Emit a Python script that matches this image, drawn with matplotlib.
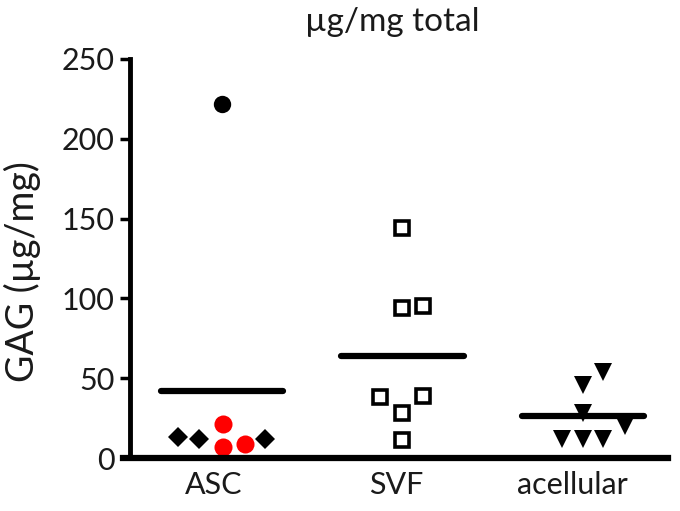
import numpy as np
import matplotlib
matplotlib.use("Agg")
import matplotlib.pyplot as plt

plt.rcParams['font.family'] = ['Lato', 'DejaVu Sans']

categories = ["ASC", "SVF", "acellular"]
asc_black = [222, 13, 12, 12]
asc_red = [21, 7, 9]
svf = [144, 94, 95, 38, 39, 28, 11]
acell = [54, 46, 28, 20, 12, 12, 12]
yticks = [0, 50, 100, 150, 200, 250]

# layout offsets (horizontal jitter, in category units)
asc_black_dx = [0.0, -0.244, -0.127, 0.238]
asc_red_dx = [0.006, 0.006, 0.127]
svf_dx = [0.0, 0.0, 0.116, -0.127, 0.116, 0.0, 0.0]
acell_dx = [0.11, 0.0, 0.0, 0.233, -0.116, 0.0, 0.11]
label_dx = [-0.044, -0.033, -0.06]

fig = plt.figure(figsize=(6.8, 5.11), dpi=100)
ax = fig.add_axes([0.191, 0.1037, 0.791, 0.781])

txt = '#1a1a1a'

# ASC
ax.plot([0 + d for d in asc_black_dx[:1]], asc_black[:1], 'o', color='black', ms=12.5, mew=0)
ax.plot([0 + d for d in asc_black_dx[1:]], asc_black[1:], 'D', color='black', ms=10, mew=0)
ax.plot([0 + d for d in asc_red_dx], asc_red, 'o', color='#ff0000', ms=13, mew=0)
# SVF
ax.plot([1 + d for d in svf_dx], svf, 's', mfc='white', mec='black', ms=10.5, mew=2.6)
# acellular
ax.plot([2 + d for d in acell_dx], acell, 'v', color='black', ms=13, mew=0)

means = [np.mean(asc_black + asc_red), np.mean(svf), np.mean(acell)]
for i, m in enumerate(means):
    ax.plot([i - 0.34, i + 0.34], [m, m], color='black', lw=4.5, solid_capstyle='round', zorder=1)

ax.set_xlim(-0.51, 2.47)
ax.set_ylim(0, 250)
ax.set_yticks(yticks)
ax.set_yticklabels([str(v) for v in yticks])
ax.set_xticks([i + d for i, d in enumerate(label_dx)])
ax.set_xticklabels(categories)

for s in ['top', 'right']:
    ax.spines[s].set_visible(False)
ax.spines['left'].set_linewidth(3.5)
ax.spines['bottom'].set_linewidth(4.5)
ax.spines['bottom'].set_bounds(-0.55, 2.47)
ax.tick_params(axis='y', length=7, width=2.5, labelsize=22, pad=4, colors='black', labelcolor=txt)
ax.tick_params(axis='x', length=0, labelsize=22, pad=9, labelcolor=txt)
ax.set_ylabel("GAG (µg/mg)", fontsize=27, color=txt)
ax.yaxis.set_label_coords(-0.2007, 0.466)
ax.yaxis.label.set_verticalalignment('center')
ax.text(0.488, 1.093, "µg/mg total", transform=ax.transAxes, ha='center', va='center',
        fontsize=24, color=txt)
for sp in ax.spines.values():
    sp.set_clip_on(False)

fig.savefig("out.png", dpi=100)
